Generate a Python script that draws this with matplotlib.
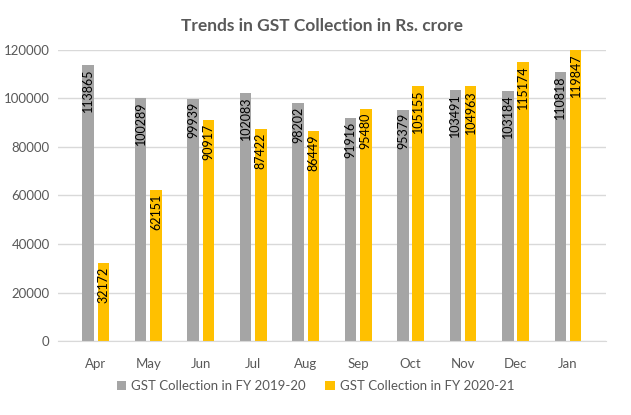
import matplotlib
matplotlib.use("Agg")
import matplotlib.pyplot as plt
import numpy as np

months = ["Apr", "May", "Jun", "Jul", "Aug", "Sep", "Oct", "Nov", "Dec", "Jan"]
fy1920 = [113865, 100289, 99939, 102083, 98202, 91916, 95379, 103491, 103184, 110818]
fy2021 = [32172, 62151, 90917, 87422, 86449, 95480, 105155, 104963, 115174, 119847]
series_names = ["GST Collection in FY 2019-20", "GST Collection in FY 2020-21"]
yticks = [0, 20000, 40000, 60000, 80000, 100000, 120000]

plt.rcParams['font.family'] = ['Lato', 'DejaVu Sans']

fig = plt.figure(figsize=(6.31, 4.15), dpi=100)
ax = fig.add_axes([0.092, 0.178, 0.868, 0.702])

x = np.arange(len(months))
w = 0.22
off = 0.146
gray = "#A5A5A5"
gold = "#FFC000"
b1 = ax.bar(x - off, fy1920, w, color=gray, label=series_names[0], zorder=2)
b2 = ax.bar(x + off, fy2021, w, color=gold, label=series_names[1], zorder=2)

for bars, vals in ((b1, fy1920), (b2, fy2021)):
    for rect, v in zip(bars, vals):
        ax.text(rect.get_x() + rect.get_width() / 2, v - 1500, str(v),
                rotation=90, ha='center', va='top', fontsize=9,
                color='black', zorder=3)

ax.set_ylim(0, 120000)
ax.set_xlim(-0.72, len(months) - 0.28)
ax.set_yticks(yticks)
ax.set_yticklabels([str(t) for t in yticks])
ax.set_xticks(x)
ax.set_xticklabels(months)
ax.tick_params(axis='both', length=0, labelsize=9.5, colors='#595959')
ax.tick_params(axis='x', pad=12)
ax.tick_params(axis='y', pad=6)
ax.grid(axis='y', color='#D9D9D9', linewidth=1, zorder=0)
for s in ('top', 'right', 'left'):
    ax.spines[s].set_visible(False)
ax.spines['bottom'].set_color('#D9D9D9')

fig.suptitle("Trends in GST Collection in Rs. crore", x=0.51, y=0.957,
             fontsize=12.5, fontweight='bold', color='#595959')

fig.legend(handles=[b1, b2], loc='center', bbox_to_anchor=(0.5, 0.07), ncol=2,
           frameon=False, fontsize=9.5, handlelength=0.7, handleheight=0.7,
           handletextpad=0.4, columnspacing=1.5, labelcolor='#595959')

fig.savefig("out.png", dpi=100)
